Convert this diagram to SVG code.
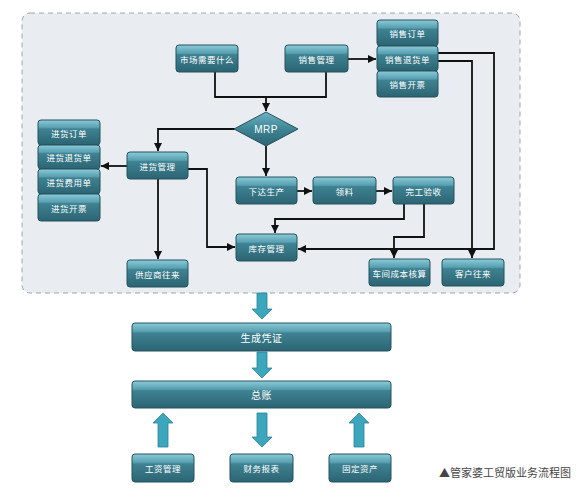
<svg xmlns="http://www.w3.org/2000/svg" width="586" height="496" viewBox="0 0 586 496">
<defs>
<linearGradient id="g" x1="0" y1="0" x2="0" y2="1">
<stop offset="0" stop-color="#8ccbd9"/>
<stop offset="0.3" stop-color="#58a0b0"/>
<stop offset="0.36" stop-color="#3e8292"/>
<stop offset="1" stop-color="#2c6473"/>
</linearGradient>
<linearGradient id="gd" x1="0" y1="0" x2="0" y2="1">
<stop offset="0" stop-color="#6db3c3"/>
<stop offset="0.5" stop-color="#3e8595"/>
<stop offset="1" stop-color="#2c6473"/>
</linearGradient>
<marker id="ah" markerWidth="8" markerHeight="8" refX="8" refY="4" orient="auto" markerUnits="userSpaceOnUse">
<path d="M0,0 L8,4 L0,8 z" fill="#111"/>
</marker>
<style>
.n{fill:url(#g);stroke:#25535e;stroke-width:1}
.t{fill:#fff;font-family:"Noto Sans CJK SC","Noto Sans",sans-serif;font-size:8.5px;text-anchor:middle;dominant-baseline:central;letter-spacing:0.5px}
.tb{font-size:10px}
.c{fill:none;stroke:#111;stroke-width:1.8}
.a{marker-end:url(#ah)}
.big{fill:#3ba6bc;stroke:#2a8397;stroke-width:0.8}
</style>
</defs>
<rect x="22" y="13" width="498" height="280" rx="8" fill="#e9edf1" stroke="#9aa6ad" stroke-width="1" stroke-dasharray="5 4"/>

<g id="connectors">
<path class="c a" d="M348,59 H376"/>
<path class="c" d="M215,72 V97 H326 V72"/>
<path class="c a" d="M266,97 V111"/>
<path class="c a" d="M235,129 H158 V151"/>
<path class="c a" d="M266,146 V176"/>
<path class="c a" d="M127,166 H101"/>
<path class="c a" d="M158,179 V259"/>
<path class="c a" d="M188,169 H207 V247 H235"/>
<path class="c a" d="M297,191 H312"/>
<path class="c a" d="M376,191 H392"/>
<path class="c a" d="M404,204 V219 H275 V233"/>
<path class="c a" d="M424,204 V237 H394 V258"/>
<path class="c a" d="M438,53 H494 V249 H298"/>
<path class="c a" d="M438,61 H472 V258"/>
</g>

<g id="bigarrows">
<polygon class="big" points="257,293 267,293 267,309 272,309 262,319 252,309 257,309"/>
<polygon class="big" points="257,352 267,352 267,368 272,368 262,378 252,368 257,368"/>
<polygon class="big" points="158,447 168,447 168,423 173,423 163,413 153,423 158,423"/>
<polygon class="big" points="257,413 267,413 267,437 272,437 262,447 252,437 257,437"/>
<polygon class="big" points="354,447 364,447 364,423 369,423 359,413 349,423 354,423"/>
</g>

<g id="n_mkt"><rect class="n" x="176" y="45" width="62" height="27" rx="3"/><text class="t" x="207" y="59">市场需要什么</text></g>
<g id="n_sale"><rect class="n" x="285" y="45" width="63" height="27" rx="3"/><text class="t" x="316.5" y="59">销售管理</text></g>
<g id="n_so"><rect class="n" x="377" y="20" width="61" height="26" rx="3"/><text class="t" x="407.5" y="33">销售订单</text></g>
<g id="n_sr"><rect class="n" x="377" y="46" width="61" height="25" rx="3"/><text class="t" x="407.5" y="59">销售退货单</text></g>
<g id="n_si"><rect class="n" x="377" y="71" width="61" height="26" rx="3"/><text class="t" x="407.5" y="84">销售开票</text></g>
<g id="n_mrp"><polygon points="266,112 298,129 266,146 234,129" fill="url(#gd)" stroke="#25535e" stroke-width="1"/><text class="t" x="266" y="129" style="font-family:'Liberation Sans',sans-serif;font-size:10px">MRP</text></g>
<g id="n_pm"><rect class="n" x="127" y="152" width="61" height="27" rx="3"/><text class="t" x="157.5" y="165.5">进货管理</text></g>
<g id="n_po"><rect class="n" x="38" y="120" width="62" height="25" rx="3"/><text class="t" x="69" y="132.5">进货订单</text></g>
<g id="n_pr"><rect class="n" x="38" y="145" width="62" height="24" rx="3"/><text class="t" x="69" y="157">进货退货单</text></g>
<g id="n_pf"><rect class="n" x="38" y="169" width="62" height="25" rx="3"/><text class="t" x="69" y="181.5">进货费用单</text></g>
<g id="n_pi"><rect class="n" x="38" y="194" width="62" height="27" rx="3"/><text class="t" x="69" y="207.5">进货开票</text></g>
<g id="n_sup"><rect class="n" x="127" y="260" width="61" height="27" rx="3"/><text class="t" x="157.5" y="273.5">供应商往来</text></g>
<g id="n_xd"><rect class="n" x="236" y="177" width="61" height="27" rx="3"/><text class="t" x="266.5" y="190.5">下达生产</text></g>
<g id="n_ll"><rect class="n" x="313" y="177" width="63" height="27" rx="3"/><text class="t" x="344.5" y="190.5">领料</text></g>
<g id="n_wg"><rect class="n" x="393" y="177" width="61" height="27" rx="3"/><text class="t" x="423.5" y="190.5">完工验收</text></g>
<g id="n_kc"><rect class="n" x="236" y="234" width="61" height="27" rx="3"/><text class="t" x="266.5" y="247.5">库存管理</text></g>
<g id="n_cj"><rect class="n" x="369" y="259" width="61" height="27" rx="3"/><text class="t" x="399.5" y="272.5">车间成本核算</text></g>
<g id="n_kh"><rect class="n" x="442" y="259" width="62" height="27" rx="3"/><text class="t" x="473" y="272.5">客户往来</text></g>
<g id="n_pz"><rect class="n" x="132" y="323" width="259" height="28" rx="3"/><text class="t tb" x="261.5" y="337">生成凭证</text></g>
<g id="n_zz"><rect class="n" x="132" y="381" width="259" height="27" rx="3"/><text class="t tb" x="261.5" y="394.5">总账</text></g>
<g id="n_gz"><rect class="n" x="132" y="454" width="62" height="28" rx="3"/><text class="t" x="163" y="468">工资管理</text></g>
<g id="n_cw"><rect class="n" x="230" y="454" width="63" height="28" rx="3"/><text class="t" x="261.5" y="468">财务报表</text></g>
<g id="n_gd"><rect class="n" x="329" y="454" width="62" height="28" rx="3"/><text class="t" x="360" y="468">固定资产</text></g>

<text x="439" y="477" font-family="'Noto Sans CJK SC','Noto Sans',sans-serif" font-size="11" fill="#444">▲管家婆工贸版业务流程图</text>
</svg>
